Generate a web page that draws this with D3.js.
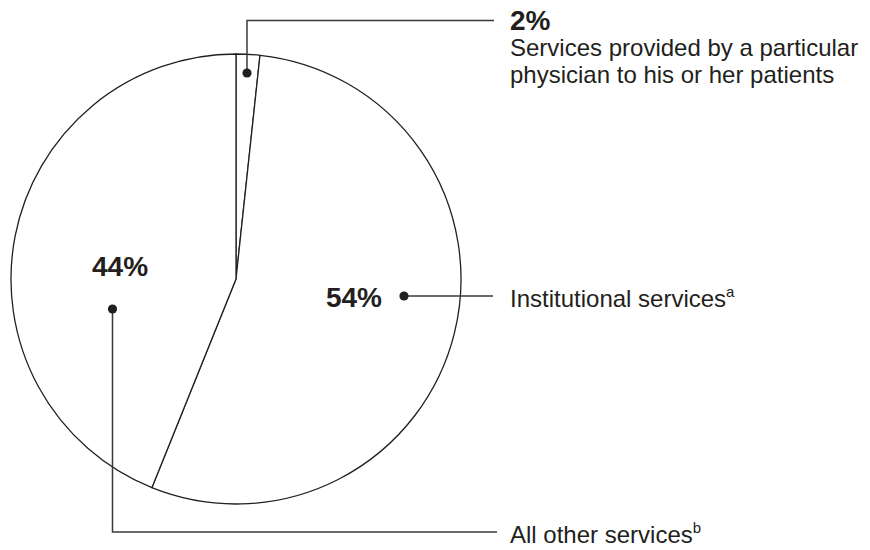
<!DOCTYPE html>
<html>
<head>
<meta charset="utf-8">
<script src="https://cdn.jsdelivr.net/npm/d3@7"></script>
<style>
  html, body { margin: 0; padding: 0; background: #fff; }
  svg { display: block; }
  text { font-family: "Liberation Sans", Arial, Helvetica, sans-serif; fill: #231f20; }
</style>
</head>
<body>
<svg id="chart" width="870" height="550"></svg>
<script>
const categories = ["Services provided by a particular physician to his or her patients", "Institutional services", "All other services"];
const values = [1.7, 54.4, 43.9];
const pctLabels = ["2%", "54%", "44%"];
const superscripts = ["", "a", "b"];

const svg = d3.select("#chart");
const cx = 236, cy = 279, R = 225;

const pie = d3.pie().sort(null).value(d => d);
const arcs = pie(values);
const arc = d3.arc().innerRadius(0).outerRadius(R);

const g = svg.append("g").attr("transform", `translate(${cx},${cy})`);
g.selectAll("path").data(arcs).join("path")
  .attr("d", arc)
  .attr("fill", "#fff")
  .attr("stroke", "#231f20")
  .attr("stroke-width", 1.3)
  .attr("stroke-linejoin", "round");

const lineColor = "#3a3a3a";
const textX = 510;

// Leader lines
const leaders = svg.append("g").attr("fill", "none").attr("stroke", lineColor).attr("stroke-width", 1.5);
leaders.append("polyline").attr("points", "247,73 247,20.5 494,20.5");
leaders.append("polyline").attr("points", "404,296 493,296");
leaders.append("polyline").attr("points", "112.5,309 112.5,532 497,532");

const dots = [[247, 73], [404, 296], [112.5, 309]];
svg.append("g").selectAll("circle").data(dots).join("circle")
  .attr("cx", d => d[0]).attr("cy", d => d[1]).attr("r", 4.6).attr("fill", "#231f20");

// Percentage labels
svg.append("text").attr("x", textX).attr("y", 30).attr("font-size", 28).attr("font-weight", "bold").text(pctLabels[0]);
svg.append("text").attr("x", 382).attr("y", 307).attr("text-anchor", "end").attr("font-size", 28).attr("font-weight", "bold").text(pctLabels[1]);
svg.append("text").attr("x", 92).attr("y", 276).attr("font-size", 28).attr("font-weight", "bold").text(pctLabels[2]);

// Category labels
const desc = svg.append("text").attr("x", textX).attr("y", 56).attr("font-size", 24);
desc.append("tspan").attr("x", textX).attr("y", 56).text("Services provided by a particular");
desc.append("tspan").attr("x", textX).attr("y", 83).text("physician to his or her patients");

function labelWithSup(y, label, sup) {
  const t = svg.append("text").attr("x", textX).attr("y", y).attr("font-size", 24);
  t.append("tspan").text(label);
  t.append("tspan").attr("font-size", 15).attr("dy", -10).text(sup);
}
labelWithSup(307, categories[1], superscripts[1]);
labelWithSup(543, categories[2], superscripts[2]);
</script>
</body>
</html>
